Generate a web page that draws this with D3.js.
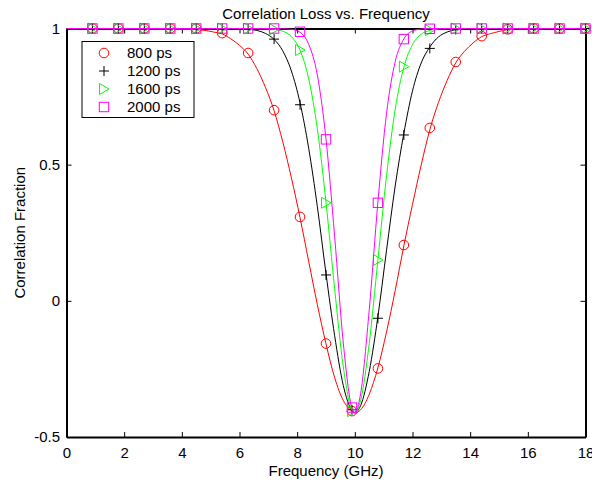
<!DOCTYPE html>
<html>
<head>
<meta charset="utf-8">
<script src="https://cdn.jsdelivr.net/npm/d3@7"></script>
<style>
  html, body { margin: 0; padding: 0; background: #fff; }
  svg { display: block; }
  text { font-family: "Liberation Sans", Arial, sans-serif; }
</style>
</head>
<body>
<svg id="chart" width="592" height="481"></svg>
<script>
// ---------------- DATA ----------------
const seriesNames = ["800 ps", "1200 ps", "1600 ps", "2000 ps"];
const seriesColors = ["#ff0000", "#000000", "#00ff00", "#ff00ff"];
const seriesMarkers = ["circle", "plus", "triangle", "square"];

// marker frequencies (GHz)
const markerFreq = [0.9, 1.8, 2.7, 3.6, 4.5, 5.4, 6.3, 7.2, 8.1, 9.0, 9.9, 10.8, 11.7, 12.6, 13.5, 14.4, 15.3, 16.2, 17.1, 18.0];
const marker800  = [1, 1, 1, 1, 1, 0.983, 0.91, 0.70, 0.308, -0.157, -0.405, -0.248, 0.205, 0.635, 0.877, 0.972, 0.997, 1, 1, 1];
const marker1200 = [1, 1, 1, 1, 1, 1, 0.998, 0.961, 0.72, 0.095, -0.40, -0.064, 0.609, 0.927, 0.996, 1, 1, 1, 1, 1];
const marker1600 = [1, 1, 1, 1, 1, 1, 1, 0.997, 0.921, 0.36, -0.405, 0.15, 0.86, 0.994, 1, 1, 1, 1, 1, 1];
const marker2000 = [1, 1, 1, 1, 1, 1, 1, 1, 0.988, 0.593, -0.392, 0.36, 0.961, 0.999, 1, 1, 1, 1, 1, 1];

// line sample frequencies (GHz)
const lineFreq = [0, 4.5, 4.8, 5.1, 5.4, 5.7, 6.0, 6.3, 6.6, 6.9, 7.2, 7.5, 7.8, 8.1, 8.4, 8.7, 9.0, 9.3, 9.6, 9.9, 10.0,
                  10.2, 10.5, 10.8, 11.1, 11.4, 11.7, 12.0, 12.3, 12.6, 12.9, 13.2, 13.5, 13.8, 14.1, 14.4, 14.7, 15.0, 15.3, 15.6, 18];
const line800  = [1, 0.996, 0.993, 0.987, 0.980, 0.962, 0.938, 0.906, 0.853, 0.784, 0.698, 0.584, 0.452, 0.305, 0.145, -0.014, -0.158, -0.282, -0.366, -0.405, -0.412,
                  -0.400, -0.343, -0.246, -0.114, 0.038, 0.202, 0.354, 0.498, 0.628, 0.728, 0.809, 0.874, 0.916, 0.947, 0.970, 0.981, 0.989, 0.996, 0.998, 1];
const line1200 = [1, 1, 1, 1, 1, 1, 1, 0.997, 0.993, 0.982, 0.960, 0.918, 0.844, 0.727, 0.560, 0.346, 0.100, -0.128, -0.311, -0.402, -0.410,
                  -0.385, -0.259, -0.058, 0.186, 0.422, 0.615, 0.771, 0.873, 0.932, 0.969, 0.987, 0.996, 0.998, 1, 1, 1, 1, 1, 1, 1];
const line1600 = [1, 1, 1, 1, 1, 1, 1, 1, 1, 0.999, 0.997, 0.990, 0.970, 0.920, 0.815, 0.631, 0.362, 0.044, -0.242, -0.402, -0.410,
                  -0.366, -0.156, 0.151, 0.460, 0.703, 0.858, 0.941, 0.979, 0.993, 0.998, 1, 1, 1, 1, 1, 1, 1, 1, 1, 1];
const line2000 = [1, 1, 1, 1, 1, 1, 1, 1, 1, 1, 1, 0.999, 0.997, 0.986, 0.942, 0.829, 0.594, 0.236, -0.155, -0.394, -0.410,
                  -0.341, -0.032, 0.362, 0.689, 0.878, 0.962, 0.991, 0.998, 1, 1, 1, 1, 1, 1, 1, 1, 1, 1, 1, 1];

const xTicks = [0, 2, 4, 6, 8, 10, 12, 14, 16, 18];
const yTicks = [-0.5, 0, 0.5, 1];
const yTickLabels = ["-0.5", "0", "0.5", "1"];

const titleText = "Correlation Loss vs. Frequency";
const xLabelText = "Frequency (GHz)";
const yLabelText = "Correlation Fraction";

// ---------------- LAYOUT ----------------
const W = 592, H = 481;
const mLeft = 66.5, mRight = 585.5, mTop = 28.5, mBottom = 437;
const FS = 15;

const svg = d3.select("#chart");
const x = d3.scaleLinear().domain([0, 18]).range([mLeft, mRight]);
const y = d3.scaleLinear().domain([-0.5, 1]).range([mBottom, mTop]);

const lineSeries = [line800, line1200, line1600, line2000];
const markerSeries = [marker800, marker1200, marker1600, marker2000];

// axes
const gx = svg.append("g").attr("transform", `translate(0,${mBottom})`)
  .call(d3.axisBottom(x).tickValues(xTicks).tickFormat(d3.format("d")).tickSizeInner(-5).tickSizeOuter(0).tickPadding(10));
const gxTop = svg.append("g").attr("transform", `translate(0,${mTop})`)
  .call(d3.axisTop(x).tickValues(xTicks).tickFormat("").tickSizeInner(-5).tickSizeOuter(0));
const gy = svg.append("g").attr("transform", `translate(${mLeft},0)`)
  .call(d3.axisLeft(y).tickValues(yTicks).tickFormat((d, i) => yTickLabels[i]).tickSizeInner(-5).tickSizeOuter(0).tickPadding(6.5));
const gyR = svg.append("g").attr("transform", `translate(${mRight},0)`)
  .call(d3.axisRight(y).tickValues(yTicks).tickFormat("").tickSizeInner(-5).tickSizeOuter(0));

[gx, gxTop, gy, gyR].forEach(g => {
  g.select(".domain").attr("stroke", "#000").attr("stroke-width", 2);
  g.selectAll(".tick line").attr("stroke", "#000").attr("stroke-width", 1);
  g.selectAll(".tick text").attr("font-size", FS).attr("font-family", "Liberation Sans, Arial, sans-serif").attr("fill", "#000");
});

// series
const lineGen = d3.line().x(d => x(d[0])).y(d => y(d[1])).curve(d3.curveMonotoneX);

function drawMarker(g, type, color, cx, cy) {
  if (type === "circle") {
    g.append("circle").attr("cx", cx).attr("cy", cy).attr("r", 4.8)
      .attr("fill", "none").attr("stroke", color).attr("stroke-width", 1);
  } else if (type === "plus") {
    g.append("path").attr("d", `M${cx - 5},${cy}H${cx + 5}M${cx},${cy - 5}V${cy + 5}`)
      .attr("fill", "none").attr("stroke", color).attr("stroke-width", 1);
  } else if (type === "triangle") {
    g.append("path").attr("d", `M${cx - 4.5},${cy - 5.5}L${cx + 5},${cy}L${cx - 4.5},${cy + 5.5}Z`)
      .attr("fill", "none").attr("stroke", color).attr("stroke-width", 1);
  } else if (type === "square") {
    g.append("rect").attr("x", cx - 4.7).attr("y", cy - 4.7).attr("width", 9.4).attr("height", 9.4)
      .attr("fill", "none").attr("stroke", color).attr("stroke-width", 1);
  }
}

seriesNames.forEach((name, i) => {
  const g = svg.append("g");
  const pts = lineFreq.map((f, j) => [f, lineSeries[i][j]]);
  g.append("path").datum(pts).attr("d", lineGen)
    .attr("fill", "none").attr("stroke", seriesColors[i]).attr("stroke-width", 1);
  markerFreq.forEach((f, j) => drawMarker(g, seriesMarkers[i], seriesColors[i], x(f), y(markerSeries[i][j])));
});

// legend
const lg = svg.append("g");
lg.append("rect").attr("x", 82).attr("y", 41.5).attr("width", 112).attr("height", 76)
  .attr("fill", "#fff").attr("stroke", "#000").attr("stroke-width", 1);
seriesNames.forEach((name, i) => {
  const cy = 53 + i * 18;
  drawMarker(lg, seriesMarkers[i], seriesColors[i], 104, cy);
  lg.append("text").attr("x", 127).attr("y", cy).attr("dy", "0.35em")
    .attr("font-size", FS).attr("fill", "#000").text(name);
});

// title & labels
svg.append("text").attr("x", (mLeft + mRight) / 2).attr("y", 18.5).attr("text-anchor", "middle")
  .attr("font-size", FS).attr("fill", "#000").text(titleText);
svg.append("text").attr("x", (mLeft + mRight) / 2).attr("y", 476).attr("text-anchor", "middle")
  .attr("font-size", FS).attr("fill", "#000").text(xLabelText);
svg.append("text").attr("transform", `translate(24.5,${(mTop + mBottom) / 2}) rotate(-90)`).attr("text-anchor", "middle")
  .attr("font-size", FS).attr("fill", "#000").text(yLabelText);
</script>
</body>
</html>
